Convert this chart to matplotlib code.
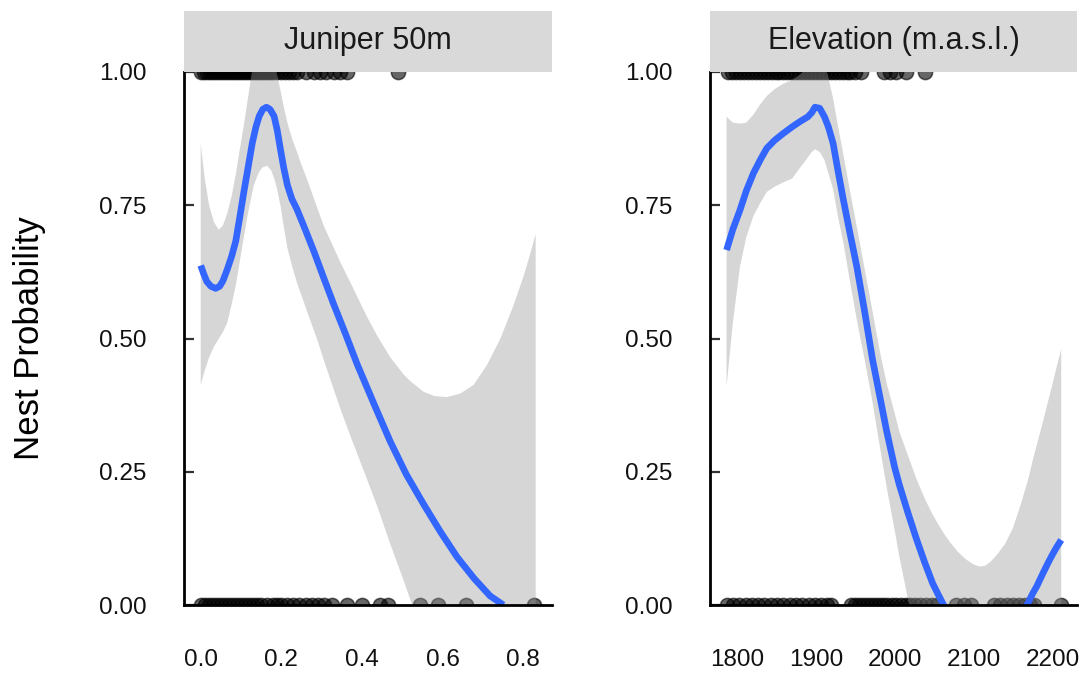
import matplotlib
matplotlib.use("Agg")
import matplotlib.pyplot as plt
from matplotlib.patches import Rectangle

plt.rcParams['font.family'] = ['Liberation Sans', 'DejaVu Sans']

# ---------------- data ----------------
panel_titles = ["Juniper 50m", "Elevation (m.a.s.l.)"]
y_ticks = [0.0, 0.25, 0.5, 0.75, 1.0]
y_ticklabels = ["0.00", "0.25", "0.50", "0.75", "1.00"]

jun_ticks = [0.0, 0.2, 0.4, 0.6, 0.8]
jun_ticklabels = ["0.0", "0.2", "0.4", "0.6", "0.8"]
elev_ticks = [1800, 1900, 2000, 2100, 2200]
elev_ticklabels = ["1800", "1900", "2000", "2100", "2200"]

# observed points (nest = 1, no nest = 0)
jun_nest = [0.0, 0.008, 0.015, 0.022, 0.03, 0.038, 0.045, 0.052, 0.06, 0.068,
            0.075, 0.083, 0.09, 0.098, 0.105, 0.113, 0.12, 0.128, 0.135, 0.143,
            0.15, 0.158, 0.165, 0.173, 0.18, 0.19, 0.2, 0.21, 0.22, 0.23, 0.24,
            0.26, 0.28, 0.295, 0.31, 0.33, 0.345, 0.362, 0.49]
jun_none = [0.0, 0.01, 0.02, 0.03, 0.04, 0.05, 0.06, 0.07, 0.08, 0.09, 0.1,
            0.11, 0.12, 0.13, 0.14, 0.15, 0.165, 0.18, 0.19, 0.2, 0.215, 0.23,
            0.245, 0.26, 0.275, 0.29, 0.305, 0.325, 0.363, 0.4, 0.444, 0.464,
            0.543, 0.588, 0.659, 0.827]
elev_nest = [1789, 1794, 1799, 1804, 1809, 1814, 1819, 1824, 1829, 1834, 1839,
             1844, 1849, 1854, 1859, 1864, 1869, 1874, 1879, 1884, 1889, 1894,
             1899, 1904, 1909, 1914, 1919, 1924, 1929, 1934, 1939, 1944, 1950,
             1957, 1986, 1994, 2002, 2014, 2039]
elev_none = [1787, 1795, 1803, 1811, 1819, 1827, 1835, 1843, 1851, 1859, 1867,
             1875, 1883, 1891, 1899, 1907, 1914, 1919, 1945, 1950, 1955, 1960,
             1965, 1970, 1975, 1980, 1985, 1990, 1996, 2002, 2008, 2014, 2020,
             2026, 2032, 2040, 2047, 2054, 2078, 2088, 2097, 2126, 2134, 2142,
             2150, 2158, 2165, 2171, 2177, 2211]

# smoothed fit, juniper
jun_fit_x = [0.0, 0.008, 0.015, 0.025, 0.037, 0.047, 0.055, 0.066, 0.077,
             0.087, 0.097, 0.107, 0.118, 0.128, 0.137, 0.145, 0.154, 0.163,
             0.172, 0.182, 0.19, 0.198, 0.206, 0.215, 0.226, 0.239, 0.26,
             0.281, 0.305, 0.33, 0.36, 0.388, 0.43, 0.47, 0.51, 0.553, 0.595,
             0.636, 0.678, 0.718, 0.751]
jun_fit = [0.637, 0.62, 0.607, 0.598, 0.594, 0.598, 0.608, 0.63, 0.655, 0.683,
           0.728, 0.775, 0.823, 0.867, 0.897, 0.917, 0.93, 0.934, 0.93, 0.917,
           0.89, 0.854, 0.82, 0.788, 0.762, 0.742, 0.703, 0.663, 0.614, 0.564,
           0.507, 0.452, 0.377, 0.307, 0.245, 0.189, 0.137, 0.09, 0.05, 0.017,
           0.0]
# confidence band, juniper
jun_band_x = [0.0, 0.01, 0.021, 0.033, 0.045, 0.055, 0.066, 0.077, 0.087,
              0.097, 0.107, 0.116, 0.124, 0.132, 0.143, 0.153, 0.165, 0.175,
              0.182, 0.188, 0.198, 0.206, 0.215, 0.227, 0.239, 0.248, 0.268,
              0.289, 0.305, 0.347, 0.372, 0.413, 0.438, 0.47, 0.504, 0.52,
              0.553, 0.58, 0.611, 0.645, 0.677, 0.71, 0.743, 0.775, 0.801,
              0.816, 0.831]
jun_upper = [0.866, 0.80, 0.749, 0.718, 0.704, 0.712, 0.735, 0.768, 0.808,
             0.855, 0.90, 0.945, 0.986, 1.02, 1.05, 1.06, 1.06, 1.04, 1.02,
             1.0, 0.965, 0.935, 0.905, 0.874, 0.85, 0.83, 0.79, 0.745, 0.712,
             0.642, 0.604, 0.54, 0.505, 0.465, 0.432, 0.42, 0.40, 0.392, 0.39,
             0.397, 0.413, 0.45, 0.499, 0.56, 0.617, 0.655, 0.696]
jun_lower = [0.413, 0.44, 0.465, 0.485, 0.50, 0.512, 0.53, 0.565, 0.60, 0.645,
             0.69, 0.73, 0.76, 0.788, 0.81, 0.821, 0.824, 0.815, 0.801, 0.785,
             0.749, 0.71, 0.67, 0.635, 0.604, 0.585, 0.542, 0.498, 0.46, 0.367,
             0.316, 0.235, 0.185, 0.115, 0.045, 0.01, -0.06, -0.12, -0.19,
             -0.27, -0.35, -0.43, -0.52, -0.60, -0.67, -0.71, -0.75]

# smoothed fit + band, elevation
elev_x = [1787, 1795, 1804, 1812, 1821, 1830, 1838, 1848, 1859, 1870, 1880,
          1890, 1895, 1899, 1905, 1911, 1916, 1922, 1928, 1935, 1943, 1952,
          1962, 1972, 1982, 1990, 2000, 2006, 2017, 2028, 2038, 2048, 2055,
          2062, 2070, 2080, 2090, 2100, 2108, 2115, 2122, 2130, 2140, 2150,
          2160, 2169, 2175, 2180, 2188, 2194, 2200, 2205, 2211]
elev_fit = [0.666, 0.705, 0.741, 0.777, 0.81, 0.836, 0.857, 0.872, 0.885,
            0.897, 0.907, 0.916, 0.924, 0.934, 0.932, 0.916, 0.897, 0.866,
            0.816, 0.76, 0.70, 0.635, 0.55, 0.46, 0.385, 0.325, 0.258, 0.225,
            0.172, 0.122, 0.08, 0.041, 0.02, 0.0, -0.02, -0.04, -0.055, -0.065,
            -0.07, -0.07, -0.068, -0.062, -0.05, -0.035, -0.017, 0.004, 0.022,
            0.035, 0.06, 0.078, 0.095, 0.108, 0.122]
elev_upper = [0.916, 0.905, 0.903, 0.905, 0.92, 0.94, 0.955, 0.968, 0.978,
              0.985, 0.995, 1.01, 1.02, 1.03, 1.03, 1.015, 0.99, 0.95, 0.90,
              0.845, 0.78, 0.71, 0.63, 0.55, 0.47, 0.415, 0.36, 0.325, 0.28,
              0.235, 0.20, 0.17, 0.152, 0.135, 0.118, 0.10, 0.086, 0.076,
              0.072, 0.074, 0.082, 0.095, 0.115, 0.145, 0.19, 0.235, 0.272,
              0.30, 0.345, 0.38, 0.415, 0.445, 0.48]
elev_lower = [0.41, 0.53, 0.635, 0.69, 0.73, 0.755, 0.775, 0.785, 0.793, 0.80,
              0.82, 0.84, 0.85, 0.855, 0.85, 0.835, 0.81, 0.78, 0.73, 0.68,
              0.61, 0.535, 0.46, 0.38, 0.29, 0.22, 0.14, 0.09, 0.01, -0.07,
              -0.14, -0.20, -0.24, -0.28, -0.32, -0.36, -0.40, -0.43, -0.45,
              -0.46, -0.47, -0.47, -0.47, -0.46, -0.45, -0.43, -0.42, -0.41,
              -0.39, -0.38, -0.36, -0.35, -0.34]

# ---------------- figure ----------------
W, H = 1083, 673
fig = plt.figure(figsize=(W / 100, H / 100), dpi=100)

def px_axes(left, right, top, bottom):
    return fig.add_axes([left / W, 1 - bottom / H, (right - left) / W, (bottom - top) / H])

ax1 = px_axes(184, 552, 72, 605)
ax2 = px_axes(710, 1077, 72, 605)

panels = [
    (ax1, panel_titles[0], jun_nest, jun_none, jun_fit_x, jun_fit,
     jun_band_x, jun_upper, jun_lower, (-0.0415, 0.8715), jun_ticks, jun_ticklabels),
    (ax2, panel_titles[1], elev_nest, elev_none, elev_x, elev_fit,
     elev_x, elev_upper, elev_lower, (1766, 2231), elev_ticks, elev_ticklabels),
]

strip_h = 61 / 533
for (ax, title, nest, none, fx, fy, bx, bu, bl, xlim, xt, xtl) in panels:
    for xs, yv in ((nest, 1), (none, 0)):
        ax.scatter(xs, [yv] * len(xs), s=105, color='black', alpha=0.6,
                   edgecolors='black', linewidths=1.1, zorder=2)
    ax.fill_between(bx, bl, bu, color='#999999', alpha=0.4, linewidth=0, zorder=3)
    ax.plot(fx, fy, color='#3366FF', lw=4.8, solid_capstyle='butt',
            solid_joinstyle='round', zorder=4)

    ax.set_xlim(*xlim)
    ax.set_ylim(0, 1)
    ax.set_xticks(xt)
    ax.set_xticklabels(xtl)
    ax.set_yticks(y_ticks)
    ax.set_yticklabels(y_ticklabels)
    ax.tick_params(axis='x', length=0, pad=32, labelsize=17.5, labelcolor='#111111')
    ax.tick_params(axis='y', direction='in', length=7, width=1.6, color='#333333',
                   pad=27, labelsize=17.5, labelcolor='#111111')
    for s in ['top', 'right']:
        ax.spines[s].set_visible(False)
    for s in ['left', 'bottom']:
        ax.spines[s].set_linewidth(2.0)
        ax.spines[s].set_color('black')
        ax.spines[s].set_zorder(5)

    ax.add_patch(Rectangle((0, 1.0), 1, strip_h, transform=ax.transAxes,
                           facecolor='#D9D9D9', edgecolor='none', clip_on=False, zorder=6))
    ax.text(0.5, 1 + strip_h / 2, title, transform=ax.transAxes, ha='center',
            va='center', fontsize=22, color='#1A1A1A', zorder=7)

fig.text(30 / W, 1 - 338 / H, "Nest Probability", rotation=90, ha='center',
         va='center', fontsize=25, color='black')

fig.savefig("out.png", dpi=100, facecolor='white')
